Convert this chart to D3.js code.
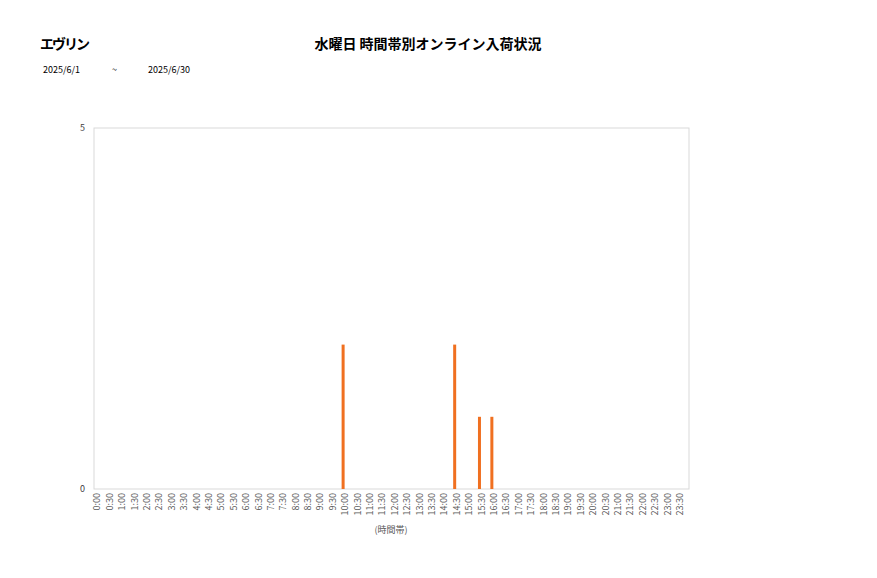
<!DOCTYPE html>
<html>
<head>
<meta charset="utf-8">
<script src="https://cdn.jsdelivr.net/npm/d3@7"></script>
<style>
  body { margin: 0; background: #fff; }
  svg text { font-family: "Noto Sans CJK JP", "Noto Sans", sans-serif; }
</style>
</head>
<body>
<div id="chart_area"></div>
<script>
// chart data
const storeName = "エヴリン";
const chartTitle = "水曜日 時間帯別オンライン入荷状況";
const dateFrom = "2025/6/1";
const dateTo = "2025/6/30";

// time slots 0:00 .. 23:30
const timeSlots = ["0:00","0:30","1:00","1:30","2:00","2:30","3:00","3:30","4:00","4:30",
  "5:00","5:30","6:00","6:30","7:00","7:30","8:00","8:30","9:00","9:30",
  "10:00","10:30","11:00","11:30","12:00","12:30","13:00","13:30","14:00","14:30",
  "15:00","15:30","16:00","16:30","17:00","17:30","18:00","18:30","19:00","19:30",
  "20:00","20:30","21:00","21:30","22:00","22:30","23:00","23:30"];
const counts = [0,0,0,0,0,0,0,0,0,0,
  0,0,0,0,0,0,0,0,0,0,
  2,0,0,0,0,0,0,0,0,2,
  0,1,1,0,0,0,0,0,0,0,
  0,0,0,0,0,0,0,0,0,0];
const yTicks = [0, 5];

const data = timeSlots.map((t, i) => ({slot: t, value: counts[i]}));

// set the dimensions and margins of the graph
const W = 877, H = 578;
const margin = {top: 128, right: 188, bottom: 89, left: 94},
    width = W - margin.left - margin.right,
    height = H - margin.top - margin.bottom;

const svg = d3.select("#chart_area")
.append("svg")
.attr("width", W)
.attr("height", H);

// header texts
svg.append("text")
.attr("x", 40).attr("y", 49)
.style("font-size", "14px").style("font-weight", "bold")
.style("letter-spacing", "-2px")
.text(storeName);

svg.append("text")
.attr("x", 428).attr("y", 49)
.attr("text-anchor", "middle")
.style("font-size", "14px").style("font-weight", "bold")
.text(chartTitle);

svg.append("text").attr("x", 43).attr("y", 73).style("font-size", "9px").text(dateFrom);
svg.append("text").attr("x", 112).attr("y", 73).style("font-size", "9px").text("~");
svg.append("text").attr("x", 148).attr("y", 73).style("font-size", "9px").text(dateTo);

const g = svg.append("g")
.attr("transform", `translate(${margin.left}, ${margin.top})`);

// X scale
const x = d3.scaleBand()
.domain(timeSlots)
.range([0, width])
.paddingInner(0);

// Y scale
const y = d3.scaleLinear()
.domain([0, 5])
.range([height, 0]);

// plot frame
g.append("rect")
.attr("x", 0).attr("y", 0)
.attr("width", width).attr("height", height)
.attr("fill", "none")
.attr("stroke", "#d9d9d9")
.attr("stroke-width", 1);

// X axis
const xAxis = g.append("g")
.attr("transform", `translate(0, ${height})`)
.call(d3.axisBottom(x).tickSize(0).tickPadding(0));
xAxis.select(".domain").remove();
xAxis.selectAll("text")
.attr("transform", "rotate(-90)")
.attr("text-anchor", "end")
.attr("x", -4)
.attr("y", -3)
.attr("dy", "0.35em")
.style("font-size", "9px")
.style("fill", "#595959")
.style("font-family", "\"Noto Sans CJK JP\", sans-serif");

// Y axis
const yAxis = g.append("g")
.call(d3.axisLeft(y).tickValues(yTicks).tickFormat(d3.format("d")).tickSize(0).tickPadding(9));
yAxis.select(".domain").remove();
yAxis.selectAll("text")
.style("font-size", "9px")
.style("fill", "#404040")
.style("font-family", "\"Noto Sans CJK JP\", sans-serif");

// axis title
svg.append("text")
.attr("x", 391).attr("y", 533)
.attr("text-anchor", "middle")
.style("font-size", "9px")
.style("fill", "#595959")
.text("(時間帯)");

// bars
const barW = 3;
g.append("g")
.selectAll("rect")
.data(data.filter(d => d.value > 0))
.join("rect")
.attr("x", d => x(d.slot) + x.bandwidth() / 2 - barW / 2 - 5)
.attr("y", d => y(d.value))
.attr("width", barW)
.attr("height", d => height - y(d.value))
.attr("fill", "#f07020");
</script>
</body>
</html>
